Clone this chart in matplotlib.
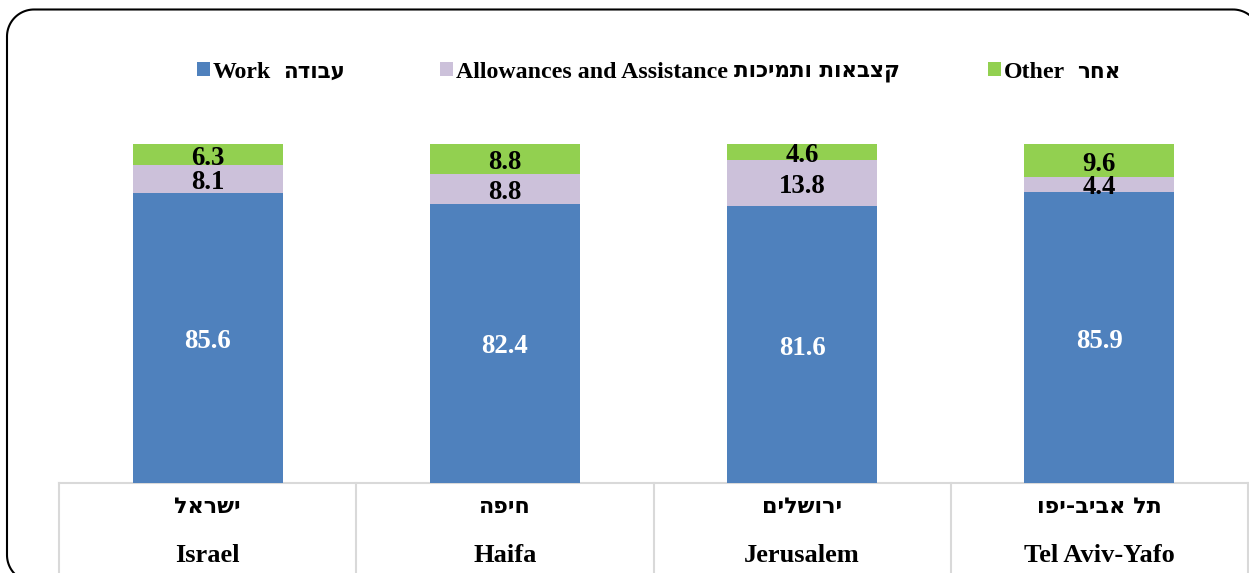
import matplotlib
matplotlib.use("Agg")
import matplotlib.pyplot as plt
from matplotlib.patches import PathPatch
from matplotlib.path import Path
from matplotlib.transforms import blended_transform_factory, IdentityTransform
import numpy as np

# ---- data ----
cities_he = ["ישראל", "חיפה", "ירושלים", "תל אביב-יפו"]
cities_en = ["Israel", "Haifa", "Jerusalem", "Tel Aviv-Yafo"]
work = [85.6, 82.4, 81.6, 85.9]
allowances = [8.1, 8.8, 13.8, 4.4]
other = [6.3, 8.8, 4.6, 9.6]
series_en = ["Work", "Allowances and Assistance", "Other"]
series_he = ["עבודה", "קצבאות ותמיכות", "אחר"]
series_gap_spaces = [2, 1, 2]
colors = ["#4F81BD", "#CCC1DA", "#92D050"]
label_colors = ["white", "black", "black"]

LAT = ["Liberation Serif", "DejaVu Sans"]
HEB = ["DejaVu Sans"]
plt.rcParams["font.family"] = LAT


def vis(s):
    # matplotlib has no bidi support: give Hebrew in visual order
    return s[::-1]


W, H = 1249, 573
fig = plt.figure(figsize=(W / 100, H / 100), dpi=100)

# rounded frame in pixel coordinates (partly cut off right and bottom)
def rounded_rect(x0, x1, ytop, ybot, r, n=24):
    pts = []
    corners = [(x1 - r, ytop + r, 90, 0), (x1 - r, ybot - r, 0, -90),
               (x0 + r, ybot - r, -90, -180), (x0 + r, ytop + r, 180, 90)]
    for cx, cy, a0, a1 in corners:
        for a in np.linspace(np.radians(a0), np.radians(a1), n):
            pts.append((cx + r * np.cos(a), H - (cy - r * np.sin(a))))
    pts.append(pts[0])
    return Path(pts)

frame = PathPatch(rounded_rect(7, 1260, 9.5, 582, 27), transform=IdentityTransform(),
                  fill=False, edgecolor="black", linewidth=1.5)
fig.patches.append(frame)

ax_left, ax_right = 59, 1248
y0_px, y100_px = 483, 144
ax = fig.add_axes([ax_left / W, (H - y0_px) / H,
                   (ax_right - ax_left) / W, (y0_px - y100_px) / H])
ax.set_xlim(-0.5, 3.5)
ax.set_ylim(0, 100)
ax.axis("off")

x = np.arange(len(cities_en))
bw = 0.505
bottom = np.zeros(len(x))
handles = []
for vals, col, lc in zip([work, allowances, other], colors, label_colors):
    vals = np.array(vals)
    bars = ax.bar(x, vals, bw, bottom=bottom, color=col, edgecolor="none",
                  zorder=2, clip_on=False)
    handles.append(bars)
    for xi, b, v in zip(x, bottom, vals):
        ax.annotate(f"{v:.1f}", (xi, b + v / 2), xytext=(0, -2.6),
                    textcoords="offset points", ha="center", va="center",
                    fontsize=19.3, fontweight="bold", color=lc, zorder=3)
    bottom = bottom + vals

# table-like category area
grid_col = "#D9D9D9"
ax.plot([-0.5, 3.6], [0, 0], color=grid_col, lw=1.5, clip_on=False, zorder=1)
table_depth = (H - y0_px + 5) / (y0_px - y100_px)
for xb in np.arange(-0.5, 4.0, 1.0):
    ax.plot([xb, xb], [0, -table_depth * 100], color=grid_col, lw=1.5,
            clip_on=False, zorder=1)

tr = blended_transform_factory(ax.transData, ax.transAxes)
for xi, he, en in zip(x, cities_he, cities_en):
    ax.text(xi, -(507 - y0_px) / (y0_px - y100_px), vis(he), transform=tr,
            ha="center", va="center", fontsize=16, fontweight="bold",
            family=HEB)
    ax.text(xi, -(556 - y0_px) / (y0_px - y100_px), en, transform=tr,
            ha="center", va="center", fontsize=19, fontweight="bold")

# legend: one entry per series, Hebrew part appended after the English text
leg_x = [197, 440, 988]
leg_y = 1 - 72 / H
legs = []
for h, en, lx in zip(handles, series_en, leg_x):
    lg = fig.legend([h], [en], loc="center left", bbox_to_anchor=(lx / W, leg_y),
                    frameon=False, prop={"size": 17.2, "weight": "bold"},
                    handlelength=0.55, handleheight=0.55, handletextpad=0.12,
                    borderpad=0, borderaxespad=0)
    legs.append(lg)

fig.canvas.draw()
r = fig.canvas.get_renderer()
for lg, he, ns in zip(legs, series_he, series_gap_spaces):
    bb = lg.get_texts()[0].get_window_extent(r)
    fig.text((bb.x1 + 6 * ns) / W, leg_y, vis(he), ha="left", va="center",
             fontsize=15.5, fontweight="bold", family=HEB)

fig.savefig("out.png", dpi=100, facecolor="white")
